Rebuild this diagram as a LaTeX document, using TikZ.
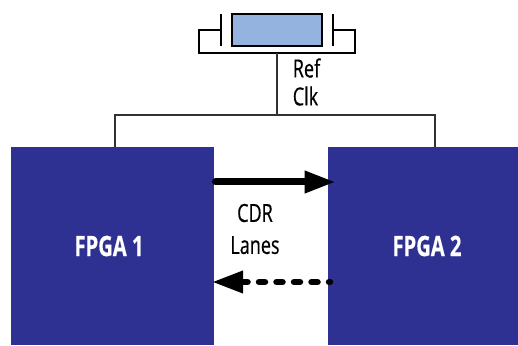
\documentclass[tikz,border=0pt]{standalone}
\usepackage{fontspec}
\setmainfont[FakeStretch=0.72,FakeBold=0.4]{Open Sans}
\definecolor{fpgablue}{RGB}{46,49,146}
\definecolor{xtalblue}{RGB}{149,179,223}
\definecolor{wirecol}{RGB}{50,50,50}
\usetikzlibrary{arrows.meta}
\tikzset{
	fpga/.style={fill=fpgablue,anchor=north west,inner sep=0pt},
	fpgatext/.style={text=white,font=\fontsize{28}{30}\selectfont\bfseries,inner sep=0pt},
	lbl/.style={font=\fontsize{25}{28}\selectfont,inner sep=0pt},
	wire/.style={wirecol,line width=1.3pt},
	lead/.style={black,line width=2pt},
	lane/.style={black,line width=7pt,line cap=round,-{Triangle[length=31pt,width=21pt]}},
	dotlane/.style={black,line width=6.5pt,line cap=round,dash pattern=on 6pt off 11.5pt,dash phase=5pt,-{Triangle[length=31pt,width=21pt]}}
}
\begin{document}
\begin{tikzpicture}[x=1pt,y=1pt]
	\useasboundingbox (0,0) rectangle (518,345);
	\node[fpga,minimum width=203pt,minimum height=198pt] (F1) at (11,198) {};
	\node[fpga,minimum width=190pt,minimum height=198pt] (F2) at (328,198) {};
	\node[fpgatext] (F1t) at (109,99) {FPGA 1};
	\node[fpgatext] (F2t) at (427,99) {FPGA 2};
	\node[fill=xtalblue,draw=black,line width=1.5pt,minimum width=90pt,minimum height=32pt,inner sep=0pt] (X) at (277,315) {};
	
	\coordinate (PL) at (221,315);
	\coordinate (PR) at (333,315);
	\coordinate (LL) at (199,315);
	\coordinate (LR) at (355,315);
	\coordinate (S) at (277,291.5);
	\coordinate (B) at (277,230);
	\draw[lead] (PL) ++(0,16) -- ++(0,-32);
	\draw[lead] (PR) ++(0,16) -- ++(0,-32);
	\draw[lead] (PL) -- (LL) |- (S) -| (LR) -- (PR);
	
	\coordinate (A1) at (115,198);
	\coordinate (A2) at (435,198);
	\draw[wire] (S) -- (B);
	\draw[wire] (A1) |- (B) -| (A2);
	\node[lbl,align=left] (Ref) at (306.5,263) {Ref\\Clk};
	
	\coordinate (T1) at (215.5,163);
	\coordinate (T2) at (335.5,163);
	\coordinate (R1) at (330,63);
	\coordinate (R2) at (212,63);
	\draw[lane] (T1) -- (T2);
	\draw[dotlane] (R1) -- (R2);
	\node[lbl,align=center] (CDR) at (255,116) {CDR\\[4pt]Lanes};
\end{tikzpicture}
\end{document}
